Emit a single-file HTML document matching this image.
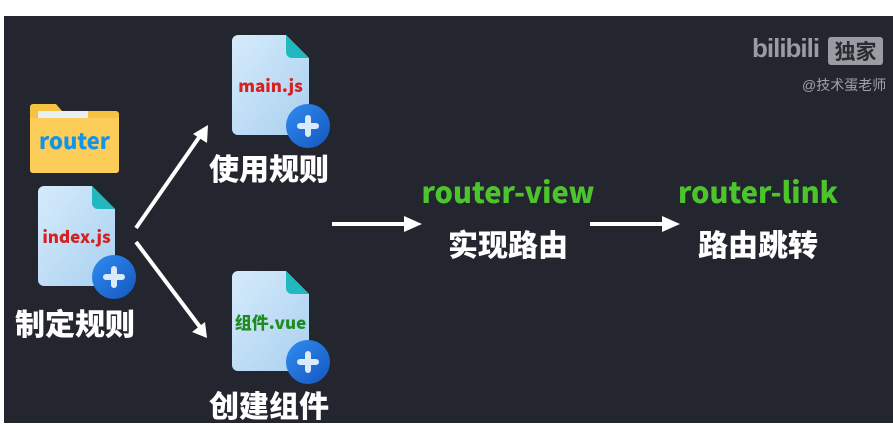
<!DOCTYPE html>
<html><head><meta charset="utf-8"><style>
body{margin:0;width:893px;height:423px;background:#fff;position:relative;overflow:hidden;font-family:"Liberation Sans","Noto Sans CJK SC",sans-serif}
#bg{position:absolute;left:4px;top:16px;right:0;bottom:0;background:#23252f}
.t{position:absolute;white-space:nowrap;font-weight:bold;text-align:center}
.cn{color:#fff;font-size:30px;font-family:"Noto Sans CJK SC",sans-serif;font-weight:900}
.g{color:#4cc52c;font-size:29px;font-family:"Noto Sans CJK SC","Liberation Sans",sans-serif;font-weight:900}
.f{font-size:17px;font-family:"Noto Sans CJK SC",sans-serif;font-weight:900}
</style></head><body>
<div id="bg"></div>
<svg width="893" height="423" style="position:absolute;left:0;top:0">
<defs>
<linearGradient id="d" x1="0" y1="0" x2="1" y2="1"><stop offset="0" stop-color="#d6ebfb"/><stop offset="1" stop-color="#a9d0f0"/></linearGradient>
<linearGradient id="c" x1="0" y1="0" x2="1" y2="1"><stop offset="0" stop-color="#2f8cf0"/><stop offset="1" stop-color="#1556c0"/></linearGradient>
<g id="doc">
<path d="M6 0 H54 L77 23 V94 a6 6 0 0 1 -6 6 H6 a6 6 0 0 1 -6 -6 V6 a6 6 0 0 1 6 -6Z" fill="url(#d)"/>
<path d="M54 0 L77 23 H60 a6 6 0 0 1 -6 -6Z" fill="#22b8c0"/>
<circle cx="76" cy="91" r="22" fill="url(#c)"/>
<path d="M76 83 V99 M68 91 H84" stroke="#dbeafa" stroke-width="6" stroke-linecap="round"/>
</g>
</defs>
<path d="M33 104 H56 L62 111 H116 a3 3 0 0 1 3 3 V170 a3 3 0 0 1 -3 3 H33 a3 3 0 0 1 -3 -3 V107 a3 3 0 0 1 3 -3Z" fill="#f6c242"/>
<rect x="38" y="111" width="50" height="8" fill="#e8eef2"/>
<path d="M30 118 H119 V170 a3 3 0 0 1 -3 3 H33 a3 3 0 0 1 -3 -3Z" fill="#fccd58"/>
<use href="#doc" x="38" y="186"/>
<use href="#doc" x="232" y="35"/>
<use href="#doc" x="232" y="271"/>
<g stroke="#fff" stroke-width="4" fill="none">
<line x1="136" y1="228" x2="200" y2="136"/>
<line x1="136" y1="242" x2="200" y2="327"/>
<line x1="332" y1="224" x2="408" y2="224"/>
<line x1="590" y1="224" x2="666" y2="224"/>
</g>
<path d="M208 125 L193 134 L207 143Z" fill="#fff"/>
<path d="M207 338 L192 332 L205 322Z" fill="#fff"/>
<path d="M422 224 L404 216 L404 232Z" fill="#fff"/>
<path d="M680 224 L662 216 L662 232Z" fill="#fff"/>
</svg>
<div class="t" style="left:30px;top:124px;width:89px;color:#1593e6;font-size:22px;font-family:'Noto Sans CJK SC',sans-serif;font-weight:900">router</div>
<div class="t f" style="left:38px;top:223px;width:77px;color:#d8211f">index.js</div>
<div class="t f" style="left:232px;top:72px;width:77px;color:#d8211f">main.js</div>
<div class="t f" style="left:232px;top:309px;width:77px;color:#1f8c22">组件.vue</div>
<div class="t cn" style="left:10px;top:300px;width:130px">制定规则</div>
<div class="t cn" style="left:204px;top:145px;width:130px">使用规则</div>
<div class="t cn" style="left:204px;top:382px;width:130px">创建组件</div>
<div class="t g" style="left:408px;top:170px;width:200px">router-view</div>
<div class="t cn" style="left:443px;top:221px;width:130px">实现路由</div>
<div class="t g" style="left:658px;top:170px;width:200px">router-link</div>
<div class="t cn" style="left:693px;top:221px;width:130px">路由跳转</div>
<div class="t" style="left:752px;top:33px;color:#9a9ca2;font-size:26px;letter-spacing:-1px">bilibili</div>
<div class="t" style="left:828px;top:37px;width:55px;height:28px;background:#9a9ca2;border-radius:3px;color:#2a2c33;font-size:21px;line-height:28px;font-family:'Noto Sans CJK SC',sans-serif">独家</div>
<div class="t" style="left:802px;top:75px;color:#a0a2a8;font-size:14px;font-weight:normal">@技术蛋老师</div>
</body></html>
